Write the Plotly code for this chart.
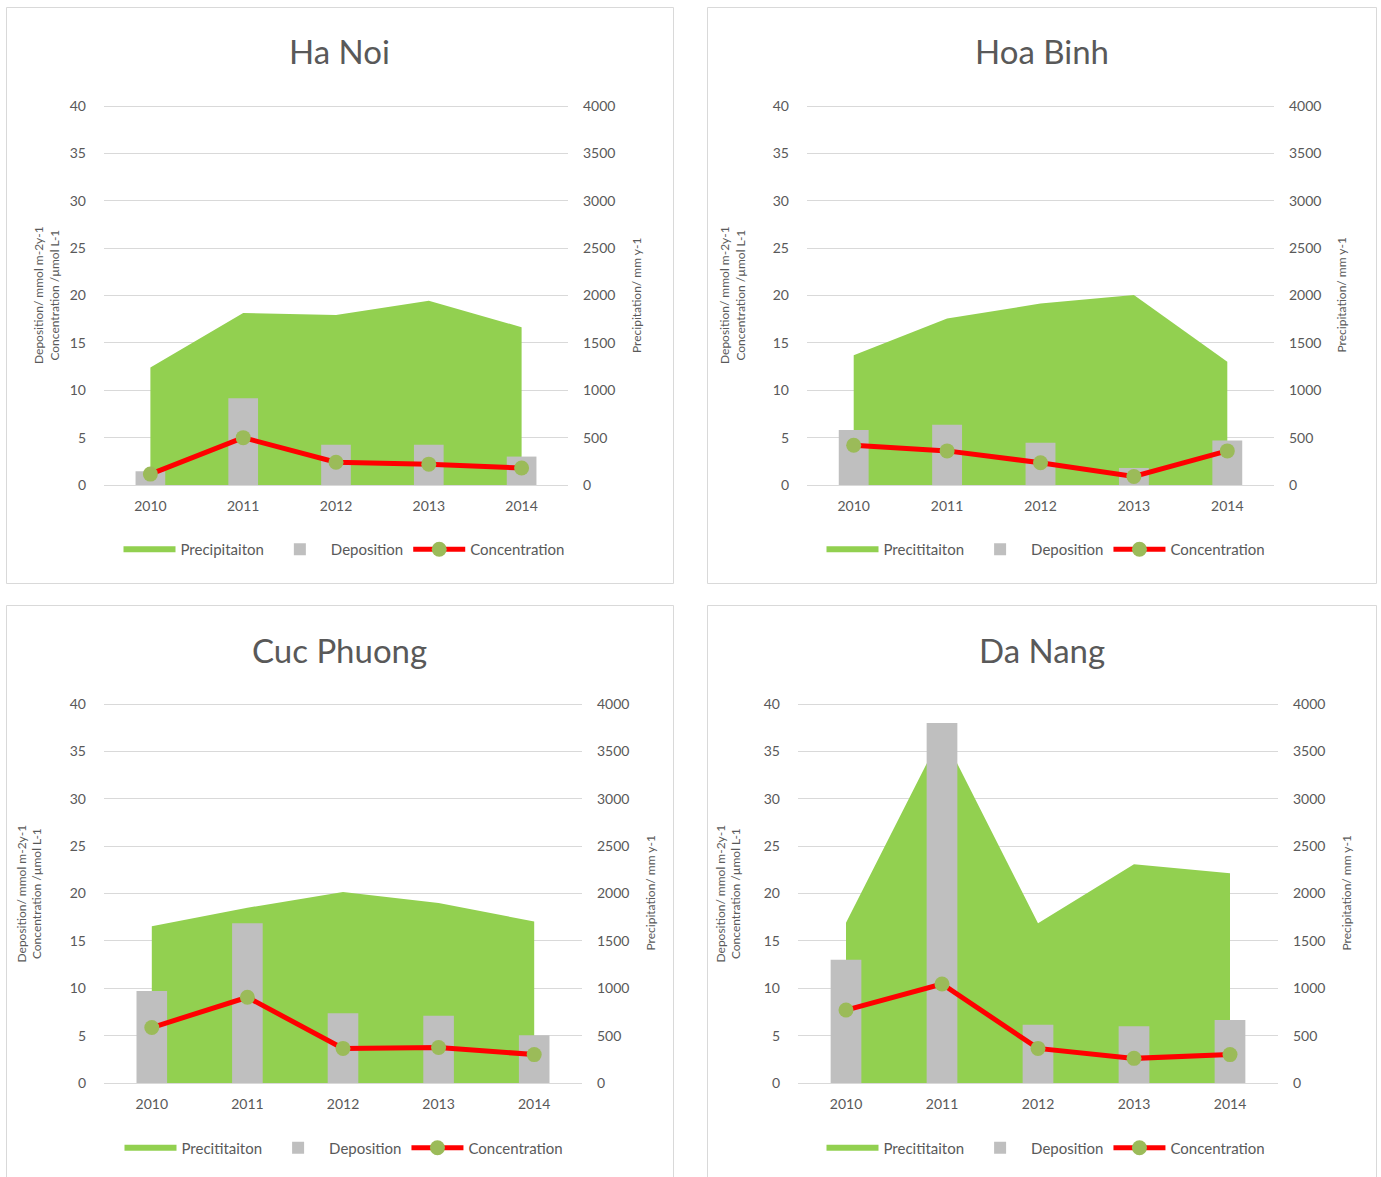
import plotly.graph_objects as go

# ---------------- data ----------------
years = ["2010", "2011", "2012", "2013", "2014"]

ha_noi_precip = [1240, 1815, 1795, 1945, 1665]
ha_noi_dep = [1.45, 9.15, 4.25, 4.25, 3.0]
ha_noi_conc = [1.15, 5.0, 2.4, 2.2, 1.8]

hoa_binh_precip = [1370, 1757, 1915, 2005, 1300]
hoa_binh_dep = [5.8, 6.35, 4.45, 1.8, 4.7]
hoa_binh_conc = [4.2, 3.6, 2.35, 0.9, 3.6]

cuc_phuong_precip = [1655, 1850, 2015, 1900, 1705]
cuc_phuong_dep = [9.7, 16.85, 7.35, 7.1, 5.05]
cuc_phuong_conc = [5.85, 9.05, 3.65, 3.75, 3.0]

da_nang_precip = [1690, 3690, 1685, 2310, 2215]
da_nang_dep = [13.0, 38.0, 6.15, 6.0, 6.65]
da_nang_conc = [7.7, 10.45, 3.65, 2.6, 3.0]

titles = ["Ha Noi", "Hoa Binh", "Cuc Phuong", "Da Nang"]
precip_names = ["Precipitaiton", "Precititaiton", "Precititaiton", "Precititaiton"]
left_title = "Deposition/ mmol m-2y-1<br>Concentration /µmol L-1"
right_title = "Precipitation/ mm y-1"
left_ticks = [0, 5, 10, 15, 20, 25, 30, 35, 40]
right_ticks = [0, 500, 1000, 1500, 2000, 2500, 3000, 3500, 4000]
LEFT_MAX, RIGHT_MAX = 40, 4000

precips = [ha_noi_precip, hoa_binh_precip, cuc_phuong_precip, da_nang_precip]
deps = [ha_noi_dep, hoa_binh_dep, cuc_phuong_dep, da_nang_dep]
concs = [ha_noi_conc, hoa_binh_conc, cuc_phuong_conc, da_nang_conc]

# ---------------- layout geometry (pixels) ----------------
W, H = 1381, 1177
FONT = "Lato, 'Open Sans', sans-serif"
TXT = "#595959"
GRID = "#D9D9D9"
PAD = 2  # extra px above top gridline so it is not clipped at the edge

# plot area: x0, x1, y_top(max), y_bottom(0)
areas = [(104, 568, 106, 485), (807, 1274, 106, 485),
         (104, 582, 704, 1083), (798, 1278, 704, 1083)]
borders = [(6.5, 673.5, 7.5, 583.5), (707.5, 1376.5, 7.5, 583.5),
           (6.5, 673.5, 605.5, 1185), (707.5, 1376.5, 605.5, 1185)]
title_pos = [(339, 51), (1042, 51), (339, 650), (1042, 650)]
left_title_x = [46.5, 732.5, 29, 728]
right_title_x = [636.5, 1341, 650, 1346]
legend_pos = [(344, 549.5), (1046, 549.5), (344, 1148), (1046, 1148)]


def px(x):
    return x / W


def py(y):
    return 1 - y / H


fig = go.Figure()
layout = dict(
    width=W, height=H, margin=dict(l=0, r=0, t=0, b=0, autoexpand=False),
    paper_bgcolor="white", plot_bgcolor="rgba(0,0,0,0)",
    font=dict(family=FONT, color=TXT, size=14),
    bargap=0.68, shapes=[], annotations=[], showlegend=True,
)

for i in range(4):
    xa = "x" if i == 0 else f"x{i+1}"
    ym = "y" if i == 0 else f"y{2*i+1}"      # main axis: precipitation (right)
    yo = f"y{2*i+2}"                          # overlay: deposition/concentration (left)
    lg = "legend" if i == 0 else f"legend{i+1}"
    x0, x1, yt, yb = areas[i]
    span = yb - yt
    ext = 1 + PAD / span

    fig.add_trace(go.Scatter(
        x=years, y=precips[i], name=precip_names[i], mode="none",
        fill="tozeroy", fillcolor="#92D050", xaxis=xa, yaxis=ym, legend=lg,
        hoverinfo="x+y"))
    fig.add_trace(go.Bar(
        x=years, y=deps[i], name="Deposition",
        marker=dict(color="#BFBFBF", line=dict(width=0)),
        xaxis=xa, yaxis=yo, legend=lg))
    fig.add_trace(go.Scatter(
        x=years, y=concs[i], name="Concentration", mode="lines+markers",
        line=dict(color="#FF0000", width=5),
        marker=dict(color="#9BBB59", size=15, line=dict(width=0)),
        xaxis=xa, yaxis=yo, legend=lg))

    xkey = "xaxis" if i == 0 else f"xaxis{i+1}"
    ymkey = "yaxis" if i == 0 else f"yaxis{2*i+1}"
    yokey = f"yaxis{2*i+2}"

    layout[xkey] = dict(
        domain=[px(x0), px(x1)], anchor=ym, type="category",
        categoryorder="array", categoryarray=years, range=[-0.5, 4.5],
        showgrid=False, zeroline=False, showline=False, ticks="",
        ticklabelstandoff=11, tickfont=dict(size=14, color=TXT, family=FONT),
        automargin=False, fixedrange=True)
    layout[ymkey] = dict(
        domain=[py(yb), py(yt - PAD)], anchor=xa, side="right",
        range=[0, RIGHT_MAX * ext],
        tickvals=right_ticks, showgrid=True, gridcolor=GRID, gridwidth=1,
        zeroline=True, zerolinecolor=GRID, zerolinewidth=1,
        ticks="", ticklabelstandoff=14, automargin=False,
        tickfont=dict(size=14, color=TXT, family=FONT), fixedrange=True)
    layout[yokey] = dict(
        overlaying=ym, anchor=xa, side="left", range=[0, LEFT_MAX * ext],
        tickvals=left_ticks, showgrid=False, zeroline=False, ticks="",
        ticklabelstandoff=17, automargin=False,
        tickfont=dict(size=14, color=TXT, family=FONT), fixedrange=True)

    lx, ly = legend_pos[i]
    layout[lg] = dict(
        orientation="h", x=px(lx), y=py(ly), xanchor="center", yanchor="middle",
        xref="paper", yref="paper", font=dict(size=15, color=TXT, family=FONT),
        bgcolor="rgba(0,0,0,0)", itemwidth=52, traceorder="normal",
        itemclick=False, itemdoubleclick=False)

    bx0, bx1, by0, by1 = borders[i]
    layout["shapes"].append(dict(
        type="rect", xref="paper", yref="paper",
        x0=px(bx0), x1=px(bx1), y0=py(by1), y1=py(by0),
        line=dict(color=GRID, width=1), fillcolor="rgba(0,0,0,0)", layer="below"))

    tx, ty = title_pos[i]
    layout["annotations"].append(dict(
        text=titles[i], x=px(tx), y=py(ty), xref="paper", yref="paper",
        xanchor="center", yanchor="middle", showarrow=False,
        font=dict(size=33, color=TXT, family=FONT)))
    cy = (yt + yb) / 2
    layout["annotations"].append(dict(
        text=left_title, x=px(left_title_x[i]), y=py(cy), xref="paper", yref="paper",
        xanchor="center", yanchor="middle", showarrow=False, textangle=-90,
        font=dict(size=12, color=TXT, family=FONT)))
    layout["annotations"].append(dict(
        text=right_title, x=px(right_title_x[i]), y=py(cy), xref="paper", yref="paper",
        xanchor="center", yanchor="middle", showarrow=False, textangle=-90,
        font=dict(size=12, color=TXT, family=FONT)))

fig.update_layout(**layout)
fig.write_html(
    "out.html",
    config={"displayModeBar": False},
    post_script="document.body.style.margin='0px';document.body.style.overflow='hidden';",
)
